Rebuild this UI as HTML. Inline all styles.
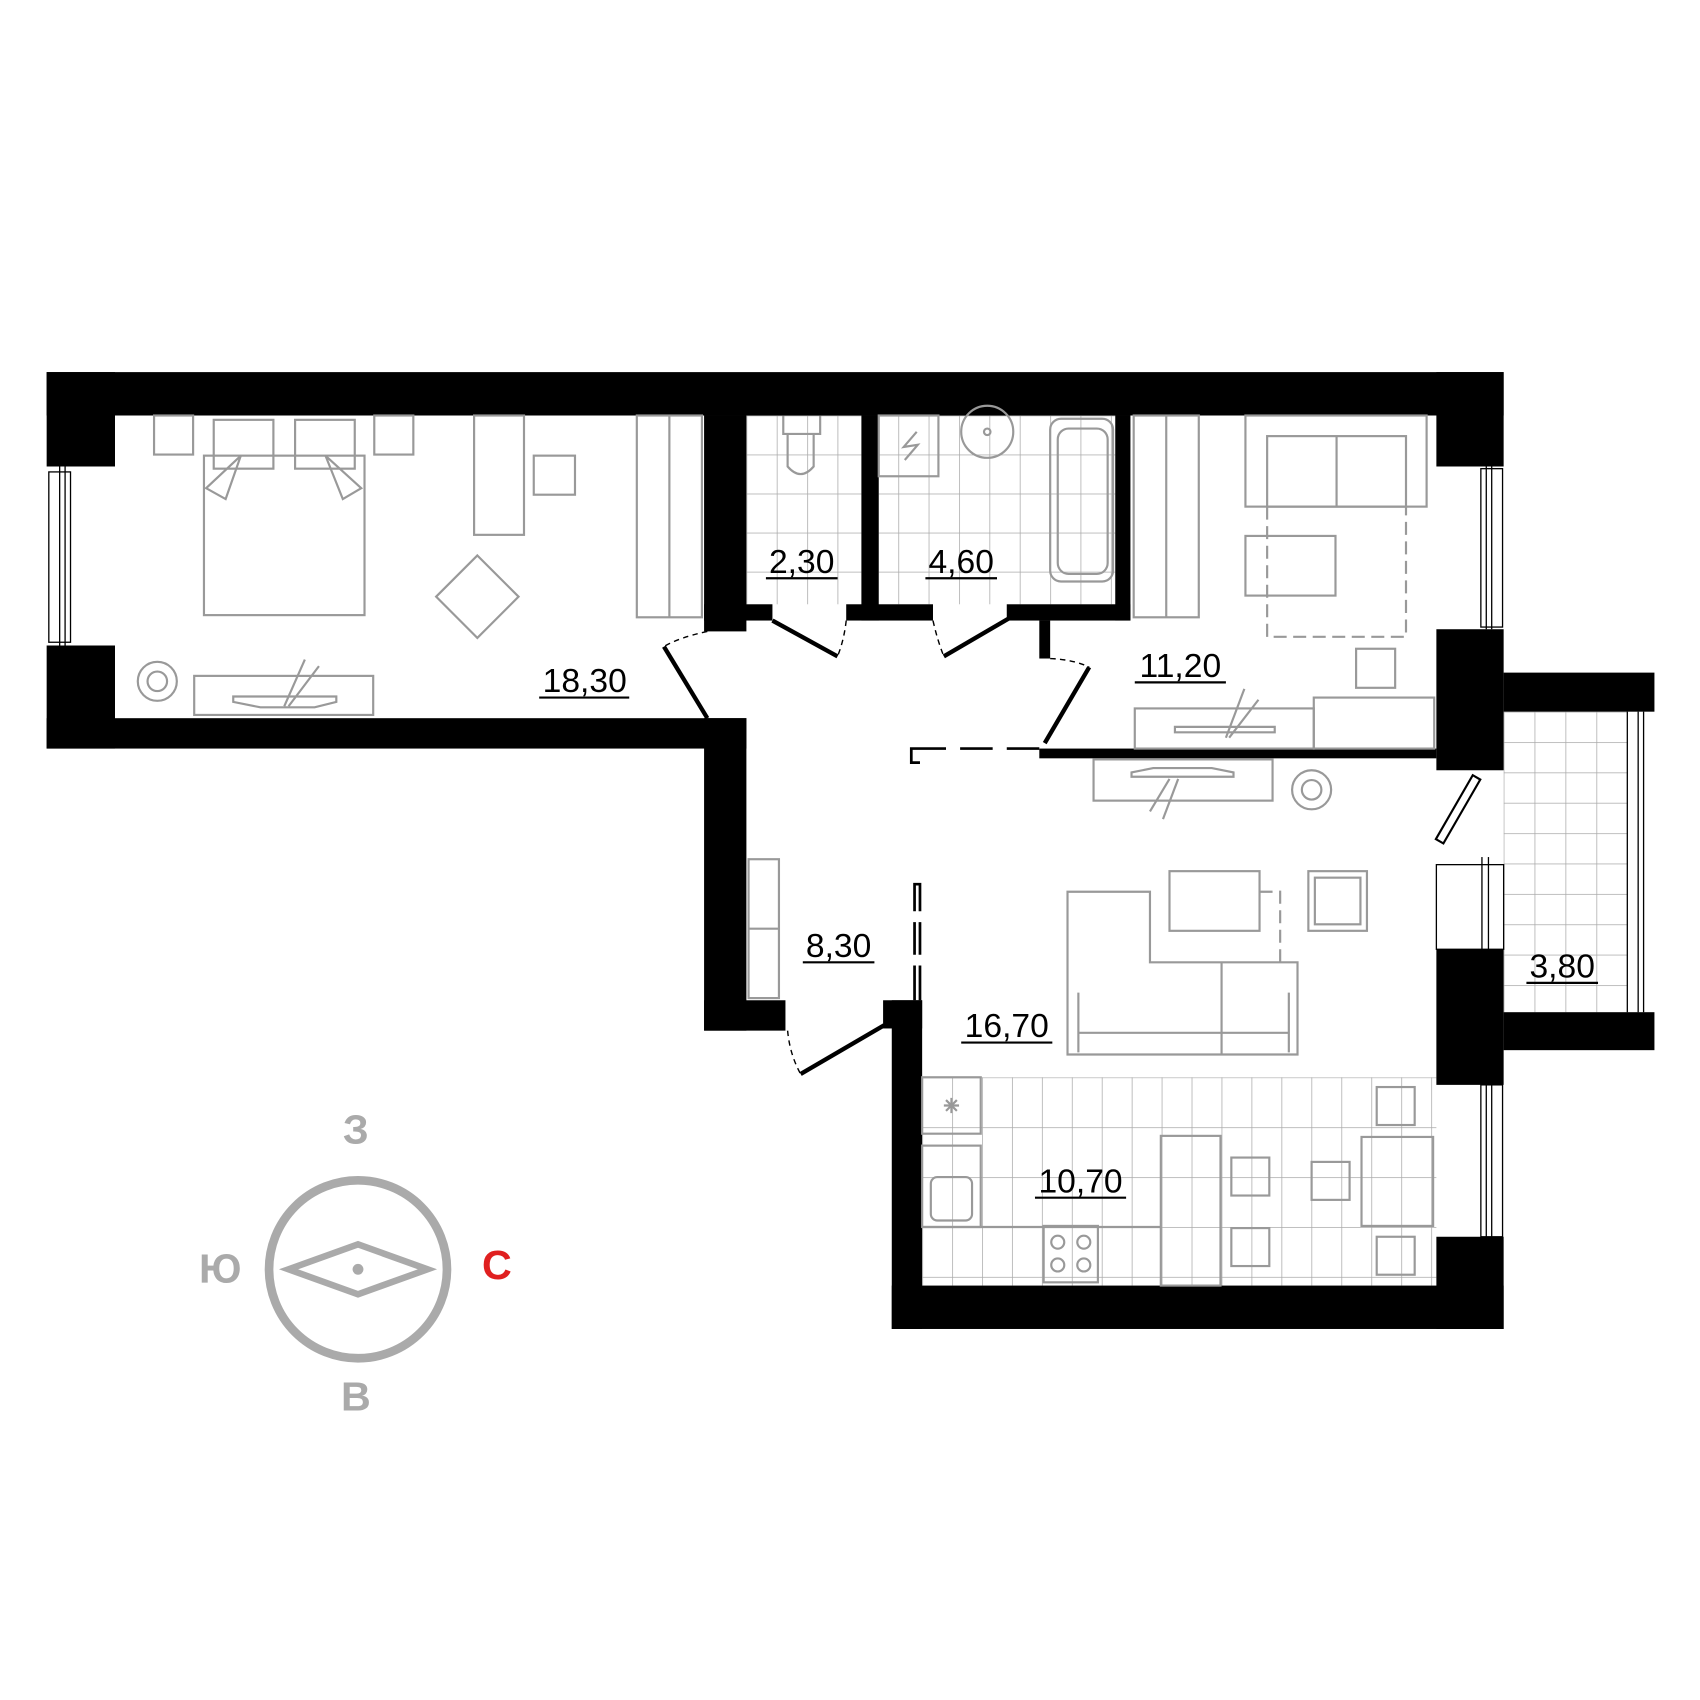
<!DOCTYPE html>
<html><head><meta charset="utf-8"><style>html,body{margin:0;padding:0;background:#fff}svg{display:block}</style></head>
<body>
<svg width="1700" height="1700" viewBox="0 0 1567 1567" xmlns="http://www.w3.org/2000/svg">
<defs>
<pattern id="tb" x="688" y="383" width="28" height="36" patternUnits="userSpaceOnUse"><path d="M0 0H28M0 0V36" stroke="#aaa" stroke-width="1.4" fill="none"/></pattern>
<pattern id="tk" x="850" y="993" width="27.6" height="46" patternUnits="userSpaceOnUse"><path d="M0 0H27.6M0 0V46" stroke="#aaa" stroke-width="1.4" fill="none"/></pattern>
<pattern id="tl" x="1386" y="656" width="28.5" height="28" patternUnits="userSpaceOnUse"><path d="M0 0H28.5M0 0V28" stroke="#aaa" stroke-width="1.4" fill="none"/></pattern>
</defs>
<rect x="688" y="383" width="106" height="174" fill="url(#tb)"/>
<rect x="810" y="383" width="218" height="174" fill="url(#tb)"/>
<rect x="850" y="993" width="474" height="192" fill="url(#tk)"/>
<rect x="1386" y="656" width="114" height="277" fill="url(#tl)"/>
<g fill="#000">
<rect x="43" y="343" width="1343" height="40"/>
<rect x="43" y="343" width="63" height="87"/>
<rect x="43" y="595" width="63" height="95"/>
<rect x="43" y="662" width="645" height="28"/>
<rect x="649" y="662" width="39" height="288"/>
<rect x="649" y="922" width="75" height="28"/>
<rect x="649" y="383" width="39" height="199"/>
<rect x="649" y="557" width="63" height="15"/>
<rect x="794" y="383" width="16" height="189"/>
<rect x="780" y="557" width="80" height="15"/>
<rect x="928" y="557" width="114" height="15"/>
<rect x="1028" y="383" width="14" height="189"/>
<rect x="958" y="572" width="10" height="35"/>
<rect x="958" y="690" width="366" height="9"/>
<rect x="1324" y="343" width="62" height="87"/>
<rect x="1324" y="580" width="62" height="130"/>
<rect x="1324" y="875" width="62" height="125"/>
<rect x="1324" y="1140" width="62" height="85"/>
<rect x="1386" y="620" width="139" height="36"/>
<rect x="1386" y="933" width="139" height="35"/>
<rect x="822" y="922" width="28" height="303"/>
<rect x="814" y="922" width="36" height="26"/>
<rect x="822" y="1185" width="564" height="40"/>
</g>
<g fill="none" stroke="#000" stroke-width="1.2">
<rect x="45" y="435" width="20" height="157"/><line x1="55" y1="430" x2="55" y2="595"/><line x1="60" y1="430" x2="60" y2="595"/>
<rect x="1365" y="432" width="20" height="146"/><line x1="1370" y1="430" x2="1370" y2="580"/><line x1="1375" y1="430" x2="1375" y2="580"/>
<rect x="1324" y="797" width="62" height="78"/><line x1="1366" y1="790" x2="1366" y2="875"/><line x1="1372" y1="790" x2="1372" y2="875"/>
<rect x="1365" y="1000" width="20" height="140"/><line x1="1370" y1="1000" x2="1370" y2="1140"/><line x1="1375" y1="1000" x2="1375" y2="1140"/>
<line x1="1500" y1="656" x2="1500" y2="933"/><line x1="1510" y1="656" x2="1510" y2="933"/><line x1="1515" y1="656" x2="1515" y2="933"/>
</g>
<g stroke="#000" stroke-width="4" fill="none">
<line x1="612" y1="596" x2="652" y2="662"/>
<line x1="712" y1="572" x2="772" y2="605"/>
<line x1="930" y1="570" x2="870" y2="605"/>
<line x1="1004" y1="615" x2="963" y2="685"/>
<line x1="815" y1="945" x2="738" y2="990"/>
</g>
<g stroke="#000" stroke-width="1.3" fill="none" stroke-dasharray="5 4">
<path d="M652 582 Q625 588 612 596"/>
<path d="M780 572 Q778 590 772 605"/>
<path d="M860 572 Q864 590 870 605"/>
<path d="M968 607 Q990 608 1004 615"/>
<path d="M726 950 Q728 972 738 990"/>
</g>
<g stroke="#000" stroke-width="2.5" fill="none">
<path d="M958 690 H928 M915 690 H885 M872 690 H850 H840 V703 H848"/>
<path d="M843 922 V890 M843 880 V850 M843 840 V815 H848 V840 M848 850 V880 M848 890 V922"/>
</g>
<rect x="1340" y="712" width="8" height="68" transform="rotate(30 1344 746)" fill="none" stroke="#000" stroke-width="2"/>
<g fill="none" stroke="#999" stroke-width="2">
<rect x="142" y="383" width="36" height="36"/><rect x="345" y="383" width="36" height="36"/>
<rect x="197" y="387" width="55" height="45"/><rect x="272" y="387" width="55" height="45"/>
<rect x="188" y="420" width="148" height="147"/>
<path d="M222 420 L190 450 L208 460 Z M300 420 L333 450 L316 460 Z"/>
<rect x="437" y="383" width="46" height="110"/><rect x="492" y="420" width="38" height="36"/>
<path d="M440 512 L478 550 L440 588 L402 550 Z"/>
<rect x="587" y="383" width="60" height="186"/><line x1="617" y1="383" x2="617" y2="569"/>
<circle cx="145" cy="628" r="18"/><circle cx="145" cy="628" r="9"/>
<rect x="179" y="623" width="165" height="36"/><path d="M215 642 H310 V647 L290 652 H240 L215 647 Z"/>
<line x1="262" y1="651" x2="281" y2="608"/><line x1="266" y1="651" x2="294" y2="614"/>
<path d="M722 383 V400 H756 V383"/><path d="M726 400 V430 Q738 444 750 430 V400"/>
<rect x="810" y="383" width="55" height="56"/><path d="M845 398 L833 412 L846 410 L834 424"/>
<circle cx="910" cy="398" r="24"/><circle cx="910" cy="398" r="3"/>
<rect x="968" y="386" width="58" height="150" rx="10"/><rect x="975" y="395" width="46" height="134" rx="10"/>
<rect x="1045" y="383" width="60" height="186"/><line x1="1075" y1="383" x2="1075" y2="569"/>
<rect x="1148" y="383" width="167" height="84"/><rect x="1168" y="402" width="128" height="65"/><line x1="1232" y1="402" x2="1232" y2="467"/>
<rect x="1148" y="494" width="83" height="55"/>
<path d="M1168 467 V587 H1296 V467" stroke-dasharray="12 6"/>
<rect x="1250" y="598" width="36" height="36"/>
<rect x="1046" y="653" width="165" height="37"/><rect x="1211" y="643" width="111" height="47"/>
<path d="M1083 675 H1175 V670 H1083 Z"/><line x1="1130" y1="680" x2="1147" y2="635"/><line x1="1133" y1="680" x2="1160" y2="645"/>
<rect x="1008" y="700" width="165" height="38"/><path d="M1043 716 H1137 V712 L1117 708 H1063 L1043 712 Z"/>
<line x1="1078" y1="718" x2="1060" y2="748"/><line x1="1086" y1="718" x2="1072" y2="755"/>
<circle cx="1209" cy="728" r="18"/><circle cx="1209" cy="728" r="9"/>
<rect x="690" y="792" width="28" height="128"/><line x1="690" y1="856" x2="718" y2="856"/>
<rect x="1078" y="803" width="83" height="55"/><rect x="1206" y="803" width="54" height="55"/><rect x="1212" y="809" width="42" height="43"/>
<path d="M1060 822 H984 V972 H1196 V887 H1060 Z M1060 822 V887 M1126 887 V972 M994 970 V952 H1188 V970 M994 915 V952 M1188 915 V952"/>
<path d="M1161 822 H1180 V887" stroke-dasharray="12 6"/>
<rect x="850" y="993" width="54" height="52"/><path d="M870 1019 H884 M877 1012 V1026 M872 1014 L882 1024 M882 1014 L872 1024"/>
<rect x="850" y="1056" width="54" height="75"/><rect x="858" y="1085" width="38" height="40" rx="6"/>
<line x1="850" y1="1131" x2="1070" y2="1131"/>
<rect x="962" y="1130" width="50" height="52"/><circle cx="975" cy="1145" r="6"/><circle cx="999" cy="1145" r="6"/><circle cx="975" cy="1166" r="6"/><circle cx="999" cy="1166" r="6"/>
<rect x="1070" y="1047" width="55" height="138"/>
<rect x="1135" y="1067" width="35" height="35"/><rect x="1209" y="1071" width="35" height="35"/>
<rect x="1135" y="1132" width="35" height="35"/><rect x="1269" y="1002" width="35" height="35"/><rect x="1269" y="1140" width="35" height="35"/>
<rect x="1255" y="1048" width="66" height="82"/>
</g>
<g font-family="'Liberation Sans Narrow','Liberation Sans',sans-serif" font-size="31" fill="#000" text-anchor="middle">
<text x="539" y="638">18,30</text><text x="739" y="528">2,30</text><text x="886" y="528">4,60</text>
<text x="1088" y="624">11,20</text><text x="773" y="882">8,30</text><text x="928" y="956">16,70</text>
<text x="996" y="1099">10,70</text><text x="1440" y="901">3,80</text>
</g>
<g stroke="#000" stroke-width="2">
<line x1="497" y1="643" x2="580" y2="643"/><line x1="706" y1="533" x2="772" y2="533"/><line x1="853" y1="533" x2="919" y2="533"/>
<line x1="1046" y1="629" x2="1130" y2="629"/><line x1="740" y1="887" x2="806" y2="887"/><line x1="886" y1="961" x2="970" y2="961"/>
<line x1="954" y1="1104" x2="1038" y2="1104"/><line x1="1407" y1="906" x2="1473" y2="906"/>
</g>
<circle cx="330" cy="1170" r="82" fill="none" stroke="#aaa" stroke-width="8"/>
<path d="M266 1170 L330 1147 L394 1170 L330 1193 Z" fill="none" stroke="#aaa" stroke-width="6"/>
<circle cx="330" cy="1170" r="5" fill="#aaa"/>
<g font-family="'Liberation Sans',sans-serif" font-weight="bold" font-size="38" fill="#aaa" text-anchor="middle">
<text x="328" y="1054">З</text><text x="203" y="1182">Ю</text><text x="328" y="1300">В</text>
<text x="458" y="1179" fill="#e02020">С</text>
</g>
</svg>
</body></html>
